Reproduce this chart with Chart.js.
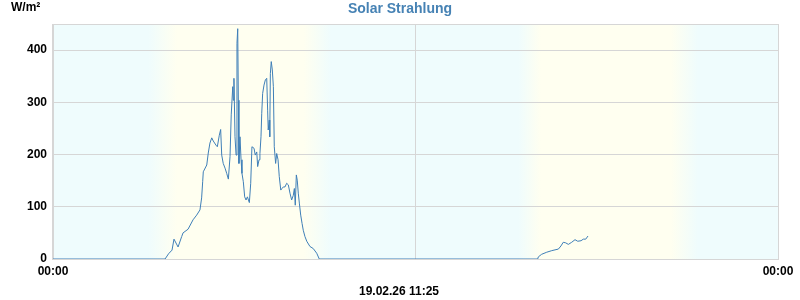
<!DOCTYPE html>
<html>
<head>
<meta charset="utf-8">
<script src="https://cdn.jsdelivr.net/npm/chart.js@4"></script>
<style>
  html, body { margin: 0; padding: 0; background: #fff; }
  #wrap { width: 800px; height: 300px; }
</style>
</head>
<body>
<div id="wrap"><canvas id="solar"></canvas></div>
<script>
// hours since 00:00 of the first day (2 days shown)
const hours = [
  0, 7.42, 7.65, 7.88, 8.01, 8.28, 8.52, 8.61, 8.94, 9.27, 9.51, 9.73, 9.84, 9.91, 9.95,
  10.18, 10.28, 10.39, 10.51, 10.61, 10.79, 10.88, 11.01, 11.10, 11.17, 11.27, 11.39,
  11.50, 11.61, 11.72, 11.80, 11.90, 11.94, 11.98, 12.05, 12.12, 12.18, 12.23, 12.27,
  12.31, 12.38, 12.45, 12.51, 12.60, 12.69, 12.78, 12.87, 13.00, 13.09, 13.17, 13.31,
  13.39, 13.49, 13.55, 13.64, 13.70, 13.77, 13.82, 13.88, 13.97, 14.06, 14.15, 14.21,
  14.25, 14.32, 14.35, 14.39, 14.45, 14.52, 14.59, 14.65, 14.74, 14.81, 14.90, 14.98,
  15.08, 15.16, 15.25, 15.36, 15.47, 15.58, 15.69, 15.80, 15.91, 15.98, 16.04, 16.11,
  16.17, 16.24, 16.31, 16.40, 16.49, 16.57, 16.68, 16.80, 17.01, 17.23, 17.46, 17.63,
  32.09, 32.13, 32.35, 32.69, 33.02, 33.46, 33.63, 33.78, 33.94, 34.12, 34.34, 34.56,
  34.74, 34.96, 35.11, 35.27, 35.42
];
const radiation = [
  0, 0, 10, 17, 38, 23, 43, 50, 57, 75, 84, 94, 117, 148, 167,
  180, 203, 222, 232, 226, 218, 215, 237, 248, 199, 183, 174,
  164, 153, 196, 276, 330, 304, 346, 234, 199, 413, 441, 304,
  183, 234, 190, 164, 148, 119, 113, 119, 108, 145, 215, 212,
  199, 205, 177, 190, 202, 234, 279, 317, 333, 343, 346, 285,
  247, 266, 234, 355, 378, 362, 330, 215, 183, 202, 190, 158,
  132, 135, 138, 138, 145, 142, 126, 113, 122, 135, 103, 161,
  151, 126, 107, 84, 68, 55, 43, 34, 24, 20, 11, 0,
  0, 4, 9, 13, 16, 19, 25, 32, 31, 28, 32, 37,
  34, 35, 38, 38, 44
];
const xTicks = [0, 24, 48];
const xTickLabels = ['00:00', '', '00:00'];
const yTicks = [0, 100, 200, 300, 400];
// twilight (hours): night -> day -> night
const dawnStart = [6.3, 30.8];
const dawnEnd = [8.2, 32.3];
const duskStart = [16.6, 40.9];
const duskEnd = [18.4, 42.7];
const stamp = '19.02.26 11:25';

const NIGHT = '#effcfd';
const DAY = '#fffff0';
const GRID = '#d6d6d6';
const BLUE = '#3f7fb8';
const FONT = '"Liberation Sans", Arial, sans-serif';

const backdrop = {
  id: 'backdrop',
  beforeDraw(chart) {
    const { ctx, chartArea: a, scales: { x } } = chart;
    const f = h => Math.min(1, Math.max(0, (x.getPixelForValue(h) - a.left) / a.width));
    const g = ctx.createLinearGradient(a.left, 0, a.right, 0);
    g.addColorStop(0, NIGHT);
    for (let i = 0; i < dawnStart.length; i++) {
      g.addColorStop(f(dawnStart[i]), NIGHT);
      g.addColorStop(f(dawnEnd[i]), DAY);
      g.addColorStop(f(duskStart[i]), DAY);
      g.addColorStop(f(duskEnd[i]), NIGHT);
    }
    g.addColorStop(1, NIGHT);
    ctx.save();
    ctx.fillStyle = g;
    ctx.fillRect(a.left, a.top, a.width, a.height);
    ctx.restore();
  },
  beforeDatasetsDraw(chart) {
    const { ctx, chartArea: a } = chart;
    ctx.save();
    ctx.strokeStyle = GRID;
    ctx.lineWidth = 1;
    ctx.strokeRect(Math.round(a.left) - 0.5, Math.round(a.top) + 0.5,
      Math.round(a.width) + 1, Math.round(a.height));
    ctx.restore();
  },
  afterDraw(chart) {
    const { ctx } = chart;
    ctx.save();
    ctx.fillStyle = '#000';
    ctx.font = 'bold 12px ' + FONT;
    ctx.textBaseline = 'middle';
    ctx.textAlign = 'left';
    ctx.fillText('W/m²', 11, 8);
    ctx.textAlign = 'center';
    ctx.fillText(stamp, 399, 292);
    ctx.restore();
  }
};

const ctx = document.getElementById('solar').getContext('2d');
new Chart(ctx, {
  type: 'line',
  data: {
    datasets: [{
      label: 'Solar Strahlung',
      data: hours.map((h, i) => ({ x: h, y: radiation[i] })),
      borderColor: BLUE,
      borderWidth: 1,
      pointRadius: 0,
      tension: 0,
      fill: false
    }]
  },
  options: {
    responsive: true,
    maintainAspectRatio: false,
    animation: false,
    layout: { padding: 0 },
    plugins: {
      legend: { display: false },
      tooltip: { enabled: false },
      title: {
        display: true,
        text: 'Solar Strahlung',
        color: '#4682b4',
        font: { family: FONT, size: 14, weight: 'bold' },
        padding: { top: 1, bottom: 6.2 }
      }
    },
    scales: {
      x: {
        type: 'linear',
        min: 0,
        max: 48,
        afterBuildTicks: s => { s.ticks = xTicks.map(v => ({ value: v })); },
        afterFit: s => { s.height = 41; },
        ticks: {
          autoSkip: false,
          maxRotation: 0,
          padding: 5,
          color: '#000',
          font: { family: FONT, size: 12, weight: 'bold' },
          callback: (v, i) => xTickLabels[i]
        },
        grid: { color: GRID, drawTicks: false },
        border: { display: false }
      },
      y: {
        min: 0,
        max: 450,
        afterBuildTicks: s => { s.ticks = yTicks.map(v => ({ value: v })); },
        afterFit: s => { s.width = 53; },
        ticks: {
          padding: 6,
          color: '#000',
          font: { family: FONT, size: 12, weight: 'bold' }
        },
        grid: { color: GRID, drawTicks: false },
        border: { display: false }
      },
      // empty right-hand axis, only keeps the right margin
      yRight: {
        position: 'right',
        min: 0,
        max: 450,
        afterFit: s => { s.width = 22; },
        ticks: { display: false },
        grid: { display: false, drawTicks: false },
        border: { display: false }
      }
    }
  },
  plugins: [backdrop]
});
</script>
</body>
</html>
